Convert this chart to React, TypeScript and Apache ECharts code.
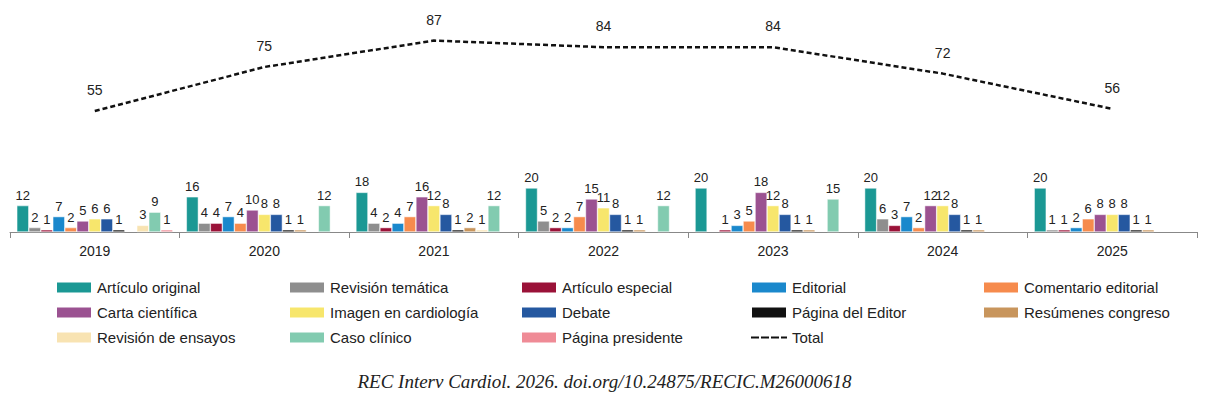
import React, { useEffect, useRef } from "react";
import * as echarts from "echarts";

const years = ["2019", "2020", "2021", "2022", "2023", "2024", "2025"];
const seriesNames = [
  "Artículo original", "Revisión temática", "Artículo especial", "Editorial", "Comentario editorial",
  "Carta científica", "Imagen en cardiología", "Debate", "Página del Editor", "Resúmenes congreso",
  "Revisión de ensayos", "Caso clínico", "Página presidente",
];
const colors = ["#1b9894", "#8e8e8e", "#9a1238", "#1a88cc", "#f68b4d", "#9b5291", "#f7e66c", "#2558a0", "#111111", "#c8955c", "#f8e3b2", "#82cbb0", "#ef8b96"];
const N = null;
const articuloOriginal = [12, 16, 18, 20, 20, 20, 20];
const revisionTematica = [2, 4, 4, 5, N, 6, 1];
const articuloEspecial = [1, 4, 2, 2, 1, 3, 1];
const editorial = [7, 7, 4, 2, 3, 7, 2];
const comentarioEditorial = [2, 4, 7, 7, 5, 2, 6];
const cartaCientifica = [5, 10, 16, 15, 18, 12, 8];
const imagenCardiologia = [6, 8, 12, 11, 12, 12, 8];
const debate = [6, 8, 8, 8, 8, 8, 8];
const paginaEditor = [1, 1, 1, 1, 1, 1, 1];
const resumenesCongreso = [N, 1, 2, 1, 1, 1, 1];
const revisionEnsayos = [3, N, 1, N, N, N, N];
const casoClinico = [9, 12, 12, 12, 15, N, N];
const paginaPresidente = [1, N, N, N, N, N, N];
const total = [55, 75, 87, 84, 84, 72, 56];
const barData = [articuloOriginal, revisionTematica, articuloEspecial, editorial, comentarioEditorial, cartaCientifica, imagenCardiologia, debate, paginaEditor, resumenesCongreso, revisionEnsayos, casoClinico, paginaPresidente];

const columns = [
  [0, 5, 10], [1, 6, 11], [2, 7, 12], [3, 8, 13], [4, 9],
];
const colX = [47, 280, 512, 742, 974];

export default function App() {
  const ref = useRef<HTMLDivElement>(null);
  useEffect(() => {
    const chart = echarts.init(ref.current!, null, { renderer: "svg" });
    const font = "Liberation Sans, Arial, sans-serif";
    const series: any[] = barData.map((d, i) => ({
      name: seriesNames[i], type: "bar", data: d, barGap: "0%", barCategoryGap: "8%",
      itemStyle: { color: colors[i], borderColor: "#fff", borderWidth: 0.5 },
      label: { show: true, position: "top", color: "#222", fontSize: 13, fontFamily: font, distance: 4 },
    }));
    series.push({
      name: "Total", type: "line", data: total, showSymbol: true, symbol: "circle", symbolSize: 0.1,
      lineStyle: { color: "#111", width: 2.5, type: [5, 3] }, itemStyle: { color: "#111" },
      label: { show: true, position: "top", distance: 14, color: "#222", fontSize: 14, fontFamily: font },
    });
    const legends = columns.map((col, c) => ({
      orient: "vertical", left: colX[c], top: 272, padding: 0, itemGap: 10,
      itemWidth: 36, itemHeight: 12,
      textStyle: { fontSize: 15, fontFamily: font, color: "#222" },
      data: col.map((k) => k === 13 ? { name: "Total", icon: "path://M0,5H8V7H0ZM10,5H18V7H10ZM20,5H28V7H20ZM30,5H36V7H30Z" } : { name: seriesNames[k], icon: "rect" }),
    }));
    chart.setOption({
      animation: false,
      grid: { left: 2, right: 4, top: 4, height: 220 },
      legend: legends,
      xAxis: {
        type: "category", data: years,
        axisLine: { lineStyle: { color: "#888" } },
        axisTick: { show: true, length: 6, lineStyle: { color: "#888" } },
        axisLabel: { color: "#222", fontSize: 14, fontFamily: font, margin: 12 },
      },
      yAxis: { type: "value", min: 0, max: 100, show: false, splitLine: { show: false } },
      graphic: [{
        type: "text", left: "center", top: 364,
        style: { text: "REC Interv Cardiol. 2026. doi.org/10.24875/RECIC.M26000618", font: "italic 19px 'Liberation Serif', serif", fill: "#222" },
      }],
      series,
    });
    return () => chart.dispose();
  }, []);
  return <div ref={ref} style={{ width: 1193, height: 390 }} />;
}
